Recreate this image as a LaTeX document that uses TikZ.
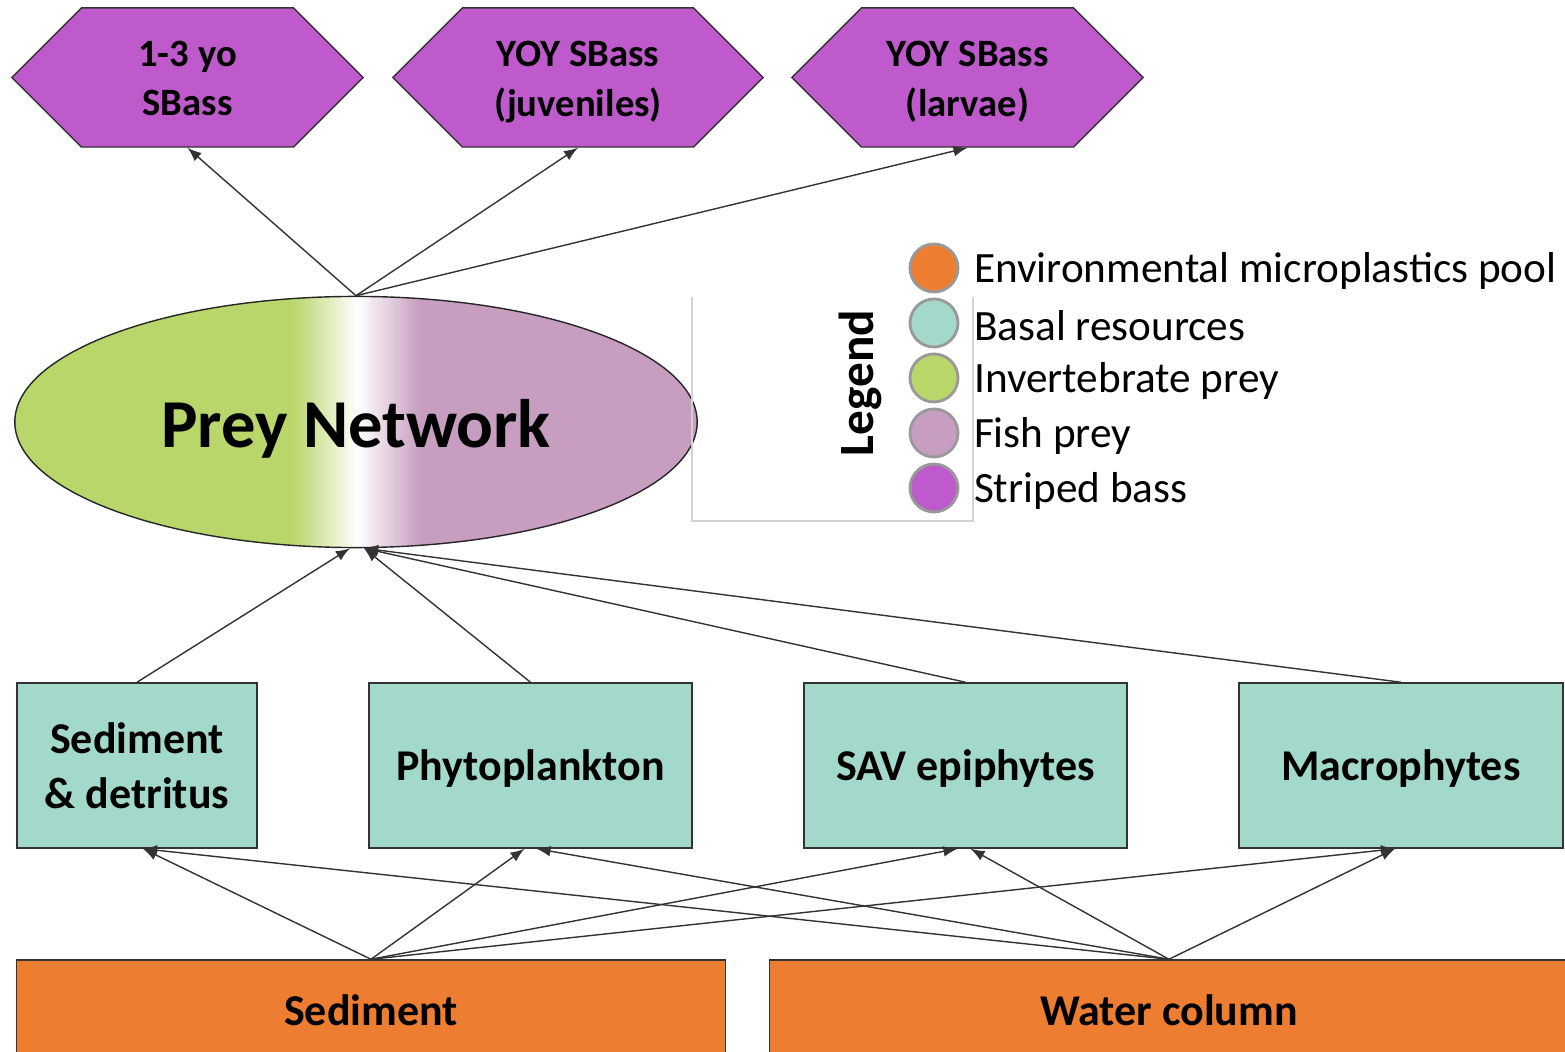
\documentclass[tikz,border=0pt]{standalone}
\usepackage{fontspec}
\setmainfont{Carlito}
\usetikzlibrary{shapes.geometric,shapes.symbols,calc}

\definecolor{bassC}{RGB}{191,90,205}
\definecolor{basalC}{RGB}{163,217,203}
\definecolor{envC}{RGB}{237,125,49}
\definecolor{invC}{RGB}{185,214,106}
\definecolor{fishC}{RGB}{199,158,192}

\pgfdeclarehorizontalshading{preyshade}{100bp}{color(0bp)=(invC); color(45.4bp)=(invC);
  color(50.1bp)=(white); color(54.7bp)=(fishC); color(100bp)=(fishC)}

% lower a one-line label a little, keeping its box
\newcommand{\lowered}[2]{\raisebox{-#1}[\height][\depth]{#2}}

\begin{document}
\begin{tikzpicture}[x=0.01cm,y=-0.01cm,>=latex,
	bass/.style={signal,signal to=west and east,signal pointer angle=90,draw=black!80,fill=bassC,
		minimum height=1.39cm,inner sep=0pt,align=center,font=\bfseries\fontsize{11}{14}\selectfont},
	basal/.style={rectangle,draw=black!80,fill=basalC,minimum height=1.65cm,inner sep=0pt,
		align=center,font=\bfseries\fontsize{12.5}{15.5}\selectfont},
	pool/.style={rectangle,draw=black!80,fill=envC,minimum height=1cm,inner sep=0pt,
		font=\bfseries\fontsize{12.5}{15}\selectfont},
	flow/.style={->,draw=black!80,line width=0.4pt},
	dot/.style={circle,draw=black!40,line width=0.8pt,minimum size=0.48cm,inner sep=0pt}]

		\useasboundingbox (0,0) rectangle (1565,1052);

		% striped bass stages
		\node[bass,minimum width=3.51cm] (h1) at (187.5,77.5) {\rule{0pt}{12pt}1-3 yo\\\strut SBass};
		\node[bass,minimum width=3.70cm] (h2) at (578,77.5) {\rule{0pt}{12.2pt}YOY SBass\\\strut (juveniles)};
		\node[bass,minimum width=3.51cm] (h3) at (967.5,77.5) {\rule{0pt}{12.2pt}YOY SBass\\\strut (larvae)};

		% the prey network
		\node[ellipse,draw=black!85,shading=preyshade,minimum width=6.82cm,minimum height=2.51cm,
			font=\bfseries\fontsize{19.5}{22}\selectfont] (prey) at (356,422) {\lowered{2pt}{Prey Network}};

		% basal resources
		\node[basal,minimum width=2.40cm] (sd) at (137,765.5) {Sediment\\\& detritus};
		\node[basal,minimum width=3.23cm] (phy) at (530.5,765.5) {\lowered{1pt}{Phytoplankton}};
		\node[basal,minimum width=3.23cm] (sav) at (965.5,765.5) {\lowered{1pt}{SAV epiphytes}};
		\node[basal,minimum width=3.24cm] (mac) at (1401,765.5) {\lowered{1pt}{Macrophytes}};

		% environmental pools
		\node[pool,minimum width=7.08cm] (sed) at (371,1010) {Sediment};
		\node[pool,minimum width=7.98cm] (wat) at (1169,1010) {Water column};

		% prey network to the bass
		\foreach \h in {h1,h2,h3}
			\draw[flow] (prey.north) -- (\h.south);

		% basal resources to the prey network
		\coordinate (pl) at ($(prey.south)+(-6,0)$);
		\coordinate (pr) at ($(prey.south)+(8,0)$);
		\draw[flow] (sd.north) -- (pl);
		\foreach \b in {phy,sav,mac}
			\draw[flow] (\b.north) -- (pr);

		% pools to basal resources
		\foreach \b/\sx/\wx in {sd/6/6,phy/-6/6,sav/-8/5,mac/-6/-6} {
			\draw[flow] (sed.north) -- ($(\b.south)+(\sx,0)$);
			\draw[flow] (wat.north) -- ($(\b.south)+(\wx,0)$);
		}

		% legend box and title
		\draw[gray!35,line width=0.5pt] (692,297) -- (692,521) -- (973,521) -- (973,297);
		\node[rotate=90,font=\bfseries\fontsize{14}{16}\selectfont] (legtitle) at (860,383) {Legend};

		% legend entries
		\foreach \i/\c/\t in {
		1/envC/Environmental microplastics pool,
		2/basalC/Basal resources,
		3/invC/Invertebrate prey,
		4/fishC/Fish prey,
		5/bassC/Striped bass} {
			\node[dot,fill=\c] (leg\i) at (934,213+55*\i) {};
			\node[anchor=west,inner sep=0pt,font=\fontsize{12.3}{15}\selectfont] (legtext\i)
				at ($(leg\i.east)+(14,0)$) {\lowered{0.8pt}{\t}};
		}
	\end{tikzpicture}
\end{document}
